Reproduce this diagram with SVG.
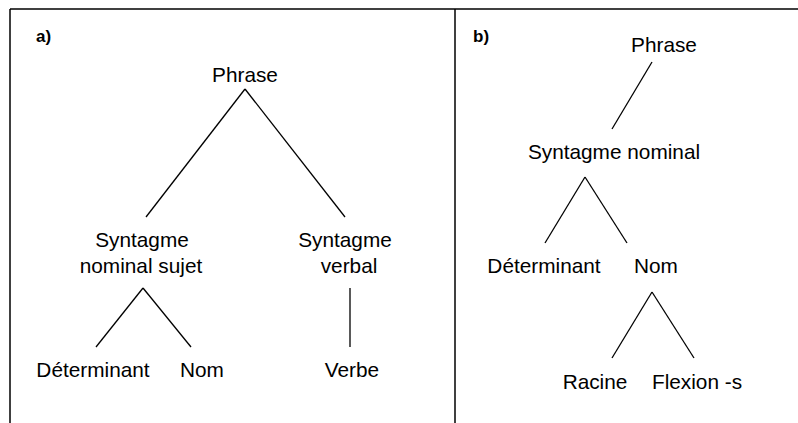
<svg xmlns="http://www.w3.org/2000/svg" width="798" height="423" viewBox="0 0 798 423">
<style>
text{font-family:"Liberation Sans",Arial,sans-serif;font-size:20.8px;fill:#000;text-anchor:middle}
.lbl{font-size:17px;font-weight:bold;text-anchor:start}
.frame{stroke:#000;stroke-width:1.5;fill:none}
.edge{stroke:#000;stroke-width:1.3;fill:none}
</style>
<rect width="798" height="423" fill="#fff"/>
<g id="frame">
<line class="frame" x1="10" y1="9" x2="798" y2="9"/>
<line class="frame" x1="10" y1="9" x2="10" y2="423"/>
<line class="frame" x1="455" y1="9" x2="455" y2="423"/>
</g>
<g id="labels">
<text class="lbl" x="36" y="42">a)</text>
<text class="lbl" x="473" y="42">b)</text>
</g>
<g id="connectors">
<line class="edge" x1="245" y1="89" x2="146" y2="217"/>
<line class="edge" x1="245" y1="89" x2="345" y2="217"/>
<line class="edge" x1="143" y1="288" x2="96" y2="347"/>
<line class="edge" x1="143" y1="288" x2="191" y2="347"/>
<line class="edge" x1="350" y1="288" x2="350" y2="347"/>
<line class="edge" x1="652" y1="62" x2="612" y2="129"/>
<line class="edge" x1="585" y1="177" x2="545" y2="243"/>
<line class="edge" x1="585" y1="177" x2="627" y2="243"/>
<line class="edge" x1="652" y1="292" x2="612" y2="358"/>
<line class="edge" x1="652" y1="292" x2="694" y2="358"/>
</g>
<g id="a-phrase"><text x="245" y="82">Phrase</text></g>
<g id="a-sn"><text x="142" y="247">Syntagme</text><text x="141" y="273">nominal sujet</text></g>
<g id="a-sv"><text x="345" y="247">Syntagme</text><text x="349" y="273">verbal</text></g>
<g id="a-det"><text x="93" y="377">Déterminant</text></g>
<g id="a-nom"><text x="202" y="377">Nom</text></g>
<g id="a-verbe"><text x="352" y="377">Verbe</text></g>
<g id="b-phrase"><text x="664" y="52">Phrase</text></g>
<g id="b-sn"><text x="614" y="159">Syntagme nominal</text></g>
<g id="b-det"><text x="544" y="273">Déterminant</text></g>
<g id="b-nom"><text x="656" y="273">Nom</text></g>
<g id="b-racine"><text x="595" y="389">Racine</text></g>
<g id="b-flexion"><text x="697" y="389">Flexion -s</text></g>
</svg>
